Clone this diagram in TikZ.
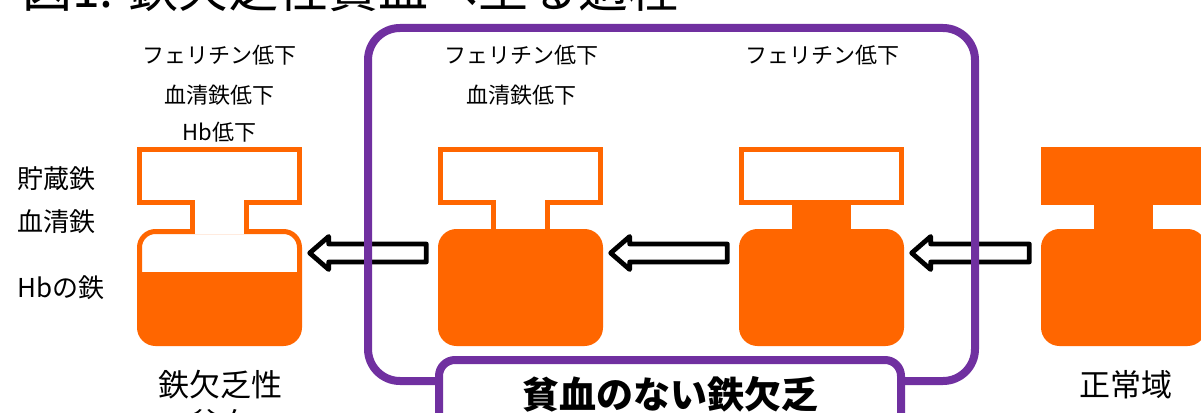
\documentclass[tikz,border=0pt]{standalone}
\usepackage{fontspec}
\setmainfont{Noto Sans CJK JP}
\usetikzlibrary{calc}
\definecolor{orng}{HTML}{FF6600}
\definecolor{purp}{HTML}{7030A0}
\tikzset{
  vline/.style={draw=orng, line width=5pt},
  body/.style={draw=none, inner sep=0pt, minimum width=160pt, minimum height=112pt},
  blockarr/.style={draw=black, line width=4.8pt, fill=white, line join=round},
  lbl/.style={inner sep=0pt, font=\fontsize{22}{26}\selectfont},
  side/.style={inner sep=0pt, anchor=west, font=\fontsize{26}{30}\selectfont},
  bottomlbl/.style={inner sep=0pt, font=\fontsize{31}{36}\selectfont},
  frame/.style={draw=purp, line width=8pt, rounded corners=32pt},
}
% #1 left x, #2 top fill, #3 neck fill, #4 bottom fill, #5 neck fill lower end
\newcommand\drawvessel[5]{%
  \draw[vline, fill=#4, rounded corners=16pt] (#1+2.5,231.5) rectangle (#1+162.5,343.5);
  \draw[vline, fill=#2] (#1+2.5,149.5) rectangle (#1+162.5,202.5);
  \fill[#3] (#1+53,200) rectangle (#1+112,#5);
  \draw[vline] (#1+55.5,200) -- (#1+55.5,234) (#1+109.5,200) -- (#1+109.5,234);
}
% block arrow from body #2 pointing to body #1
\newcommand\blockarrow[2]{%
  \coordinate (t#1) at ($(#1.east)+(10,-34.5)$);
  \coordinate (r#1) at ($(#2.west)+(-14,-34.5)$);
  \draw[blockarr] (t#1) -- ++(19,-16.5) -- ++(0,7.5) -- ($(r#1)+(0,-9)$)
     -- ($(r#1)+(0,9)$) -- ($(t#1)+(19,9)$) -- ++(0,7.5) -- cycle;
}
\begin{document}
\begin{tikzpicture}[x=1pt, y=-1pt]
\useasboundingbox (0,0) rectangle (1201,412);
\fill[white] (0,0) rectangle (1201,412);

% title (cut off at top)
\node[anchor=base west, inner sep=0pt, font=\fontsize{50}{50}\selectfont] (title) at (22,8) {図1. 鉄欠乏性貧血へ至る過程};

% vessels
\drawvessel{137}{white}{white}{white}{234}
\begin{scope}
  \clip[rounded corners=16pt] (139.5,231.5) rectangle (299.5,343.5);
  \fill[orng] (130,272) rectangle (310,350);
\end{scope}
\drawvessel{438}{white}{white}{orng}{229}
\drawvessel{739}{white}{orng}{orng}{231}
\drawvessel{1041}{orng}{orng}{orng}{231}

\node[body] (c1) at (219.5,287.5) {};
\node[body] (c2) at (520.5,287.5) {};
\node[body] (c3) at (821.5,287.5) {};
\node[body] (c4) at (1123.5,287.5) {};

% arrows
\blockarrow{c1}{c2}
\blockarrow{c2}{c3}
\blockarrow{c3}{c4}

% purple frame
\draw[frame] (368,28) rectangle (975,381);
\draw[draw=purp, line width=8pt, fill=white, rounded corners=16pt] (439,360) rectangle (901,460);
\node[inner sep=0pt, font=\fontsize{37}{42}\selectfont\bfseries] (banner) at (670,394) {貧血のない鉄欠乏};

% labels
\node[lbl] (a1) at (219.5,55) {フェリチン低下};
\node[lbl] (a2) at (219.5,95) {血清鉄低下};
\node[lbl] (a3) at (219.5,132) {Hb低下};
\node[lbl] (b1) at (521,55) {フェリチン低下};
\node[lbl] (b2) at (521,95) {血清鉄低下};
\node[lbl] (d1) at (822,55) {フェリチン低下};

\node[side] (s1) at (17,179) {貯蔵鉄};
\node[side] (s2) at (17,222) {血清鉄};
\node[side] (s3) at (17,288) {Hbの鉄};

\node[bottomlbl] (n1) at (220,385) {鉄欠乏性};
\node[bottomlbl] (n2) at (220,424) {貧血};
\node[bottomlbl] (n3) at (1126,385) {正常域};
\end{tikzpicture}
\end{document}
